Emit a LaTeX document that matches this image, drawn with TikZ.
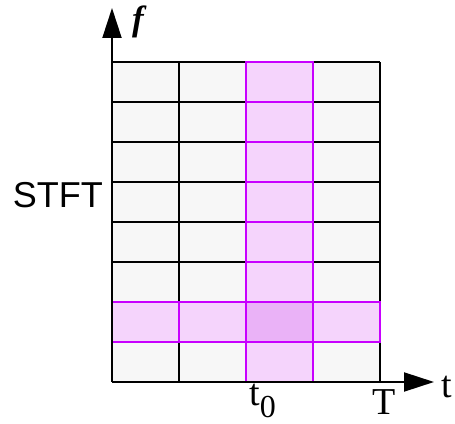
\documentclass[tikz,border=0pt]{standalone}
\usepackage{fontspec}
\setmainfont{Liberation Serif}
\newfontfamily\stftfont{Liberation Sans}
\usetikzlibrary{arrows.meta}
\definecolor{tfmag}{RGB}{200,0,255}
\definecolor{tfcell}{RGB}{247,247,247}
\definecolor{tfhatch}{RGB}{245,212,252}
\definecolor{tfcross}{RGB}{234,178,247}

\newcommand{\tfgrid}{
    \fill[tfcell] (112,41) rectangle (380,361);
    \draw[line width=2pt, xstep=67, ystep=40, shift={(112,41)}] (0,0) grid (268,320);
}
\tikzset{x=1pt, y=1pt,
    axis/.style={line width=2pt, -{Triangle[length=30pt,width=19pt]}},
    hlcell/.style={draw=tfmag, line width=2.6pt},
    every node/.append style={inner sep=0pt}}

\begin{document}
\begin{tikzpicture}
    \useasboundingbox (0,0) rectangle (455,423);
    \tfgrid
    % time slice t0 and frequency band
    \foreach \r in {0,...,7}
        \fill[tfhatch] (246,41+40*\r) rectangle ++(67,40);
    \foreach \c in {0,...,3}
        \fill[tfhatch] (112+67*\c,81) rectangle ++(67,40);
    \fill[tfcross] (246,81) rectangle ++(67,40);
    \foreach \r in {0,...,7}
        \draw[hlcell] (246,41+40*\r) rectangle ++(67,40);
    \foreach \c in {0,...,3}
        \draw[hlcell] (112+67*\c,81) rectangle ++(67,40);
    % axes
    \coordinate (origin) at (112,41);
    \coordinate (ftip) at (112,415);
    \coordinate (ttip) at (434,41);
    \draw[axis] (origin) -- (ftip);
    \draw[axis] (origin) -- (ttip);
    \node[anchor=base, font=\bfseries\itshape\fontsize{35}{35}\selectfont] (flabel) at (138,392) {f};
    \node[anchor=base west, font=\fontsize{38}{38}\selectfont] (tlabel) at (441,26) {t};
    \node[anchor=base, font=\fontsize{38}{38}\selectfont] (Tlabel) at (384,9) {T};
    \node[anchor=base west, font=\fontsize{38}{38}\selectfont] (t0label) at (249,17)
        {t\raisebox{-11pt}{\fontsize{32}{32}\selectfont 0}};
    \node[anchor=base east, font=\stftfont\fontsize{36}{36}\selectfont] (stft) at (103,215) {STFT};
\end{tikzpicture}
\end{document}
